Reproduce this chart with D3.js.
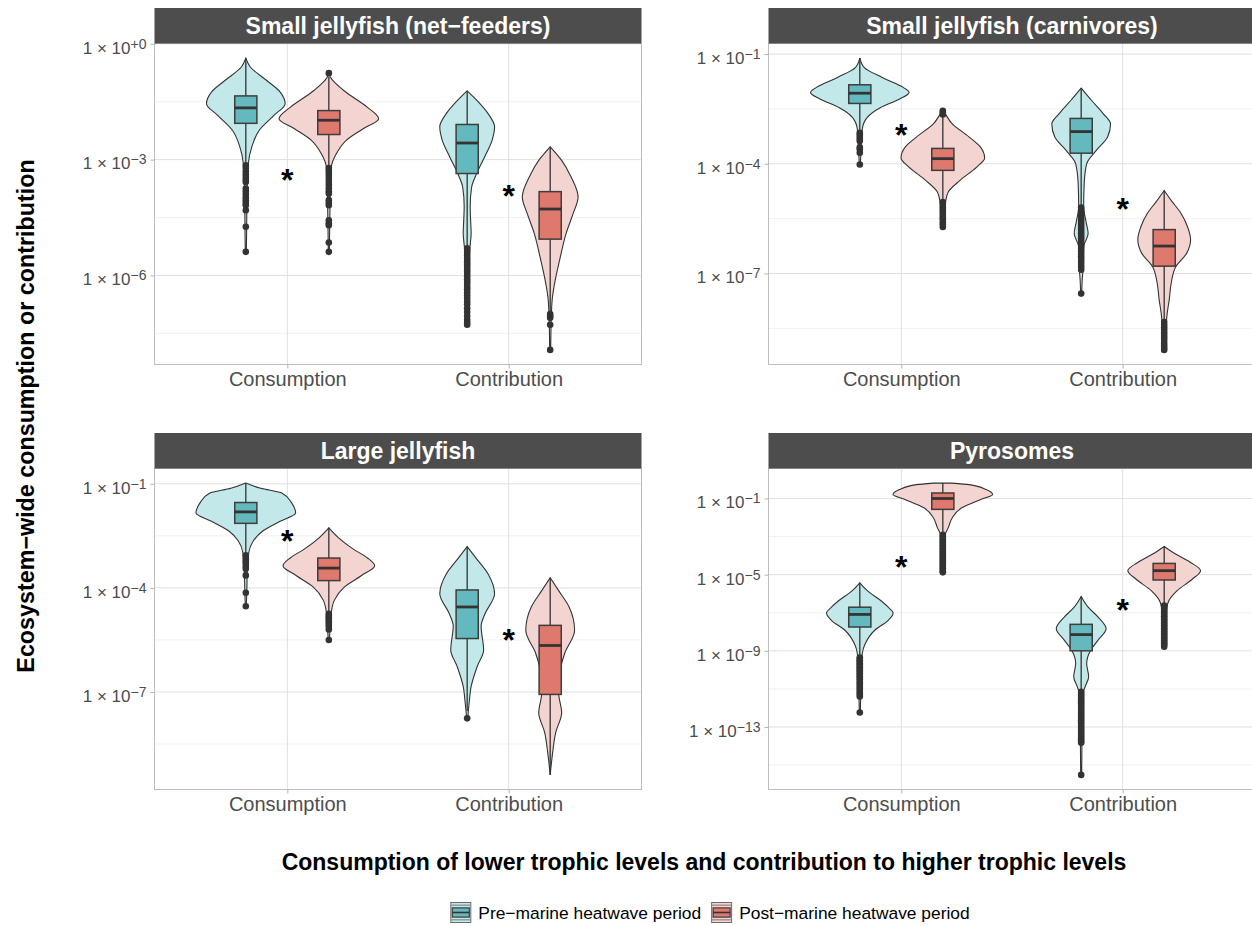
<!DOCTYPE html>
<html>
<head>
<meta charset="utf-8">
<script src="https://cdn.jsdelivr.net/npm/d3@7"></script>
<style>
  body { margin: 0; background: #fff; }
  text { font-family: "Liberation Sans", Arial, sans-serif; }
</style>
</head>
<body>
<div id="chart"></div>
<script>
// values are log10 of the quantity; order in each list:
// consumption-pre, consumption-post, contribution-pre, contribution-post
var categories = ['Consumption', 'Contribution'];
var periods = ['Pre\u2212marine heatwave period', 'Post\u2212marine heatwave period'];
var panelTitles = ['Small jellyfish (net\u2212feeders)', 'Small jellyfish (carnivores)', 'Large jellyfish', 'Pyrosomes'];

var netTicks = [0, -3, -6], netMinor = [-1.5, -4.5, -7.5];
var carnTicks = [-1, -4, -7], carnMinor = [-2.5, -5.5, -8.5];
var largeTicks = [-1, -4, -7], largeMinor = [-2.5, -5.5, -8.5];
var pyroTicks = [-1, -5, -9, -13], pyroMinor = [-3, -7, -11, -15];

// violin outlines: [log10 value, relative density]
var netShapes = [
  [[-0.37,0],[-0.6,0.09],[-0.95,0.42],[-1.25,0.69],[-1.55,0.79],[-1.85,0.57],[-2.24,0.27],[-2.67,0.12],[-3.1,0.05],[-3.6,0.03],[-4.3,0.02],[-5.0,0.015],[-5.39,0.01]],
  [[-0.76,0],[-0.86,0.03],[-1.21,0.3],[-1.64,0.77],[-1.94,1.0],[-2.2,0.69],[-2.5,0.35],[-2.85,0.15],[-3.19,0.05],[-3.8,0.03],[-4.5,0.02],[-5.39,0.01]],
  [[-1.22,0],[-1.46,0.19],[-1.81,0.42],[-2.15,0.55],[-2.5,0.5],[-2.93,0.35],[-3.36,0.19],[-3.71,0.09],[-4.22,0.06],[-4.6,0.07],[-4.91,0.08],[-5.35,0.05],[-5.78,0.04],[-6.5,0.03],[-7.28,0.01]],
  [[-2.67,0],[-3.02,0.23],[-3.45,0.42],[-3.97,0.56],[-4.4,0.46],[-4.91,0.32],[-5.6,0.19],[-6.2,0.09],[-6.63,0.04],[-7.2,0.02],[-7.93,0.01]]
];
var netBoxes = [
  [-3.1, -2.06, -1.66, -1.35, -0.37],
  [-3.19, -2.35, -1.98, -1.73, -0.86],
  [-5.26, -3.36, -2.57, -2.09, -1.22],
  [-6.94, -5.06, -4.28, -3.83, -2.67]
];
var netOutliers = [
  [-3.15,-3.22,-3.3,-3.38,-3.45,-3.52,-3.58,-3.75,-3.82,-3.9,-3.98,-4.05,-4.12,-4.18,-4.31,-4.74,-5.39],
  [-0.76,-3.22,-3.28,-3.35,-3.42,-3.5,-3.58,-3.66,-3.74,-3.82,-3.88,-4.05,-4.12,-4.18,-4.57,-4.65,-4.7,-5.15,-5.39],
  [-5.3,-5.36,-5.42,-5.48,-5.55,-5.6,-5.66,-5.72,-5.78,-5.85,-5.9,-5.96,-6.02,-6.1,-6.16,-6.22,-6.3,-6.36,-6.44,-6.52,-6.6,-6.68,-6.75,-6.85,-6.95,-7.05,-7.15,-7.22,-7.28],
  [-7.0,-7.05,-7.1,-7.28,-7.93]
];
var netStars = [-3.41, -3.81];

var carnShapes = [
  [[-1.11,0],[-1.37,0.09],[-1.64,0.45],[-1.91,0.87],[-2.05,0.99],[-2.23,0.8],[-2.46,0.42],[-2.73,0.15],[-3.05,0.05],[-3.5,0.03],[-4.02,0.01]],
  [[-2.55,0],[-2.6,0.03],[-2.91,0.19],[-3.27,0.53],[-3.55,0.76],[-3.84,0.84],[-4.09,0.68],[-4.46,0.34],[-4.77,0.11],[-5.0,0.06],[-5.4,0.03],[-5.73,0.01]],
  [[-1.93,0],[-2.27,0.21],[-2.64,0.45],[-2.91,0.59],[-3.27,0.53],[-3.64,0.3],[-4.0,0.11],[-4.55,0.06],[-5.18,0.05],[-5.6,0.1],[-5.91,0.14],[-6.27,0.05],[-6.82,0.04],[-7.2,0.02],[-7.55,0.01]],
  [[-4.73,0],[-5.0,0.14],[-5.36,0.34],[-5.73,0.47],[-6.07,0.53],[-6.45,0.45],[-6.82,0.23],[-7.27,0.14],[-7.73,0.1],[-8.09,0.06],[-8.6,0.03],[-9.09,0.01]]
];
var carnBoxes = [
  [-3.1, -2.35, -2.07, -1.84, -1.11],
  [-5.0, -4.18, -3.86, -3.58, -2.7],
  [-5.14, -3.71, -3.12, -2.76, -1.93],
  [-8.27, -6.8, -6.25, -5.8, -4.73]
];
var carnOutliers = [
  [-3.15,-3.2,-3.26,-3.32,-3.38,-3.55,-3.6,-3.7,-4.02],
  [-2.55,-2.6,-2.65,-5.05,-5.1,-5.16,-5.22,-5.28,-5.34,-5.4,-5.46,-5.52,-5.6,-5.66,-5.73],
  [-5.2,-5.27,-5.34,-5.41,-5.48,-5.55,-5.62,-5.69,-5.76,-5.83,-5.9,-5.97,-6.04,-6.11,-6.18,-6.25,-6.32,-6.39,-6.46,-6.53,-6.6,-6.67,-6.74,-6.82,-6.9,-7.55],
  [-8.33,-8.4,-8.47,-8.54,-8.61,-8.68,-8.75,-8.82,-8.9,-8.97,-9.04,-9.09]
];
var carnStars = [-3.07, -5.11];

var largeShapes = [
  [[-0.98,0],[-1.13,0.3],[-1.27,0.73],[-1.55,0.92],[-1.84,1.0],[-2.08,0.69],[-2.36,0.34],[-2.65,0.15],[-2.98,0.06],[-3.5,0.03],[-4.1,0.02],[-4.53,0.01]],
  [[-2.27,0],[-2.55,0.19],[-2.89,0.5],[-3.13,0.77],[-3.36,0.92],[-3.65,0.65],[-3.98,0.31],[-4.36,0.11],[-4.7,0.05],[-5.1,0.03],[-5.5,0.01]],
  [[-2.81,0],[-3.13,0.17],[-3.6,0.42],[-4.17,0.55],[-4.74,0.36],[-5.1,0.28],[-5.79,0.33],[-6.27,0.2],[-6.84,0.08],[-7.31,0.04],[-7.76,0.01]],
  [[-3.71,0],[-4.08,0.17],[-4.55,0.38],[-5.22,0.49],[-5.89,0.29],[-6.46,0.19],[-7.03,0.17],[-7.6,0.23],[-8.17,0.11],[-8.74,0.05],[-9.39,0]]
];
var largeBoxes = [
  [-3.03, -2.14, -1.81, -1.54, -0.98],
  [-4.7, -3.79, -3.43, -3.14, -2.27],
  [-7.55, -5.46, -4.55, -4.06, -2.81],
  [-9.39, -7.07, -5.66, -5.08, -3.71]
];
var largeOutliers = [
  [-3.06,-3.12,-3.18,-3.24,-3.3,-3.38,-3.45,-3.64,-4.14,-4.53],
  [-4.75,-4.8,-4.85,-4.9,-4.95,-5.0,-5.06,-5.12,-5.2,-5.5],
  [-7.76],
  []
];
var largeStars = [-2.51, -5.36];

var pyroShapes = [
  [[-5.43,0],[-5.84,0.15],[-6.36,0.42],[-6.71,0.57],[-7.02,0.67],[-7.4,0.57],[-7.92,0.3],[-8.62,0.11],[-9.14,0.05],[-10,0.03],[-11,0.02],[-12.24,0.01]],
  [[-0.19,0.18],[-0.27,0.53],[-0.53,0.87],[-0.79,1.0],[-1.05,0.76],[-1.49,0.38],[-2.01,0.19],[-2.53,0.11],[-2.88,0.05],[-3.5,0.03],[-4.2,0.02],[-4.88,0.01]],
  [[-6.15,0],[-6.71,0.14],[-7.23,0.34],[-7.84,0.5],[-8.44,0.34],[-8.97,0.19],[-9.66,0.11],[-10.36,0.15],[-10.88,0.08],[-11.22,0.04],[-12.5,0.02],[-14,0.015],[-15.52,0.01]],
  [[-3.52,0],[-3.92,0.23],[-4.36,0.53],[-4.79,0.73],[-5.23,0.57],[-5.84,0.26],[-6.45,0.08],[-7.2,0.03],[-8.0,0.02],[-8.79,0.01]]
];
var pyroBoxes = [
  [-9.3, -7.75, -7.09, -6.71, -5.43],
  [-2.86, -1.57, -1.0, -0.71, -0.19],
  [-11.1, -9.0, -8.15, -7.61, -6.15],
  [-6.58, -5.28, -4.79, -4.41, -3.52]
];
var pyroOutliers = [
  [-9.35,-9.42,-9.5,-9.57,-9.65,-9.72,-9.8,-9.88,-9.95,-10.03,-10.1,-10.18,-10.26,-10.34,-10.42,-10.5,-10.6,-10.7,-10.8,-10.9,-11.0,-11.1,-11.2,-11.3,-11.4,-12.24],
  [-2.9,-2.98,-3.06,-3.14,-3.22,-3.3,-3.38,-3.46,-3.54,-3.62,-3.7,-3.78,-3.86,-3.94,-4.02,-4.1,-4.18,-4.26,-4.34,-4.42,-4.5,-4.58,-4.66,-4.74,-4.82,-4.88],
  [-11.15,-11.25,-11.35,-11.45,-11.55,-11.65,-11.75,-11.85,-11.95,-12.05,-12.15,-12.25,-12.35,-12.45,-12.55,-12.65,-12.75,-12.85,-12.95,-13.05,-13.15,-13.25,-13.35,-13.45,-13.55,-13.65,-13.75,-13.83,-15.52],
  [-6.62,-6.7,-6.78,-6.86,-6.94,-7.02,-7.1,-7.18,-7.26,-7.34,-7.42,-7.5,-7.58,-7.66,-7.74,-7.82,-7.9,-7.98,-8.06,-8.14,-8.22,-8.3,-8.38,-8.46,-8.54,-8.62,-8.7,-8.79]
];
var pyroStars = [-4.36, -6.58];

var violinFill = ['#c2e8e9', '#f3d4d0'];
var boxFill = ['#64b9bf', '#df796e'];
var dark = '#333333';

var panels = [
  { title: panelTitles[0], ticks: netTicks, minor: netMinor, shapes: netShapes, boxes: netBoxes, outliers: netOutliers, stars: netStars, left: 154.5, top: 8 },
  { title: panelTitles[1], ticks: carnTicks, minor: carnMinor, shapes: carnShapes, boxes: carnBoxes, outliers: carnOutliers, stars: carnStars, left: 768.5, top: 8 },
  { title: panelTitles[2], ticks: largeTicks, minor: largeMinor, shapes: largeShapes, boxes: largeBoxes, outliers: largeOutliers, stars: largeStars, left: 154.5, top: 433 },
  { title: panelTitles[3], ticks: pyroTicks, minor: pyroMinor, shapes: pyroShapes, boxes: pyroBoxes, outliers: pyroOutliers, stars: pyroStars, left: 768.5, top: 433 }
];

var width = 1252, height = 926;
var panelW = 487, panelH = 321, stripH = 35.5;

var svg = d3.select('#chart').append('svg')
  .attr('width', width)
  .attr('height', height);

function expLabel(v) {
  if (v === 0) return '+0';
  return (v < 0 ? '\u2212' : '+') + Math.abs(v);
}

function drawPanel(p) {
  var g = svg.append('g').attr('transform', 'translate(' + p.left + ',' + p.top + ')');
  var plot = g.append('g').attr('transform', 'translate(0,' + stripH + ')');

  var vals = [];
  p.shapes.forEach(function(s) { s.forEach(function(d) { vals.push(d[0]); }); });
  p.outliers.forEach(function(o) { vals = vals.concat(o); });
  var lo = d3.min(vals), hi = d3.max(vals), pad = (hi - lo) * 0.05;

  var y = d3.scaleLinear().domain([lo - pad, hi + pad]).range([panelH, 0]);
  var x = d3.scalePoint().domain(categories).range([0, panelW]).padding(0.6);
  var step = x.step();
  var dens = d3.scaleLinear().domain([0, 1]).range([0, 0.225 * step]);

  // grid
  plot.selectAll('line.minor')
    .data(p.minor.filter(function(v) { return v > lo - pad && v < hi + pad; }))
    .enter().append('line')
    .attr('x1', 0).attr('x2', panelW)
    .attr('y1', function(d) { return y(d); }).attr('y2', function(d) { return y(d); })
    .attr('stroke', '#ededed').attr('stroke-width', 0.8);
  plot.selectAll('line.major')
    .data(p.ticks)
    .enter().append('line')
    .attr('x1', 0).attr('x2', panelW)
    .attr('y1', function(d) { return y(d); }).attr('y2', function(d) { return y(d); })
    .attr('stroke', '#e0e0e0').attr('stroke-width', 1);
  plot.selectAll('line.xgrid')
    .data(categories)
    .enter().append('line')
    .attr('x1', function(d) { return x(d); }).attr('x2', function(d) { return x(d); })
    .attr('y1', 0).attr('y2', panelH)
    .attr('stroke', '#e0e0e0').attr('stroke-width', 1);

  var groups = [];
  categories.forEach(function(c, ci) {
    [0, 1].forEach(function(pi) {
      var k = ci * 2 + pi;
      groups.push({
        cx: x(c) + (pi === 0 ? -1 : 1) * 0.1875 * step,
        period: pi,
        shape: p.shapes[k],
        box: p.boxes[k],
        outliers: p.outliers[k]
      });
    });
  });

  // violins
  groups.forEach(function(gr) {
    var area = d3.area()
      .y(function(d) { return y(d[0]); })
      .x0(function(d) { return gr.cx - dens(d[1]); })
      .x1(function(d) { return gr.cx + dens(d[1]); })
      .curve(d3.curveMonotoneY);
    plot.append('path')
      .attr('d', area(gr.shape))
      .attr('fill', violinFill[gr.period])
      .attr('stroke', dark)
      .attr('stroke-width', 1.1);
  });

  // boxplots
  var bw = 0.05 * step;
  groups.forEach(function(gr) {
    var b = gr.box;
    var bg = plot.append('g');
    bg.append('line')
      .attr('x1', gr.cx).attr('x2', gr.cx)
      .attr('y1', y(b[4])).attr('y2', y(b[3]))
      .attr('stroke', dark).attr('stroke-width', 1.3);
    bg.append('line')
      .attr('x1', gr.cx).attr('x2', gr.cx)
      .attr('y1', y(b[1])).attr('y2', y(b[0]))
      .attr('stroke', dark).attr('stroke-width', 1.3);
    bg.append('rect')
      .attr('x', gr.cx - bw).attr('width', 2 * bw)
      .attr('y', y(b[3])).attr('height', y(b[1]) - y(b[3]))
      .attr('fill', boxFill[gr.period])
      .attr('stroke', '#3d3d3d').attr('stroke-width', 1.5);
    bg.append('line')
      .attr('x1', gr.cx - bw).attr('x2', gr.cx + bw)
      .attr('y1', y(b[2])).attr('y2', y(b[2]))
      .attr('stroke', dark).attr('stroke-width', 2.8);
    bg.selectAll('circle')
      .data(gr.outliers)
      .enter().append('circle')
      .attr('cx', gr.cx)
      .attr('cy', function(d) { return y(d); })
      .attr('r', 3.3)
      .attr('fill', dark);
  });

  // significance stars
  plot.selectAll('text.star')
    .data(p.stars)
    .enter().append('text')
    .attr('x', function(d, i) { return x(categories[i]); })
    .attr('y', function(d) { return y(d) + 16; })
    .attr('text-anchor', 'middle')
    .attr('font-size', '32px')
    .attr('font-weight', 'bold')
    .attr('fill', '#000')
    .text('*');

  // border
  plot.append('rect')
    .attr('x', 0).attr('y', 0)
    .attr('width', panelW).attr('height', panelH)
    .attr('fill', 'none')
    .attr('stroke', '#bdbdbd').attr('stroke-width', 1);

  // strip
  g.append('rect')
    .attr('x', 0).attr('y', 0)
    .attr('width', panelW).attr('height', stripH)
    .attr('fill', '#4d4d4d');
  g.append('text')
    .attr('x', panelW / 2).attr('y', stripH / 2 + 8)
    .attr('text-anchor', 'middle')
    .attr('fill', '#fff')
    .attr('font-size', '23px')
    .attr('font-weight', 'bold')
    .text(p.title);

  // axes
  var yAxis = d3.axisLeft(y).tickValues(p.ticks).tickSizeInner(4).tickSizeOuter(0).tickPadding(4);
  var ya = plot.append('g').call(yAxis);
  ya.select('.domain').remove();
  ya.selectAll('.tick line').attr('stroke', '#b3b3b3');
  ya.selectAll('.tick text')
    .attr('fill', '#4d4d4d')
    .attr('font-size', '17px')
    .attr('font-family', '"Liberation Sans", Arial, sans-serif')
    .attr('dy', '0.55em')
    .each(function(d) {
      var t = d3.select(this);
      t.text(null);
      t.append('tspan').text('1 \u00d7 10');
      t.append('tspan').attr('dy', '-5').attr('font-size', '14px').text(expLabel(d));
    });

  var xAxis = d3.axisBottom(x).tickSizeInner(4).tickSizeOuter(0).tickPadding(3);
  var xa = plot.append('g').attr('transform', 'translate(0,' + panelH + ')').call(xAxis);
  xa.select('.domain').remove();
  xa.selectAll('.tick line').attr('stroke', '#b3b3b3');
  xa.selectAll('.tick text')
    .attr('fill', '#4d4d4d')
    .attr('font-size', '20px')
    .attr('font-family', '"Liberation Sans", Arial, sans-serif');
}

panels.forEach(drawPanel);

// axis titles
svg.append('text')
  .attr('transform', 'translate(34,416) rotate(-90)')
  .attr('text-anchor', 'middle')
  .attr('font-size', '23.3px')
  .attr('font-weight', 'bold')
  .text('Ecosystem\u2212wide consumption or contribution');

svg.append('text')
  .attr('x', 704).attr('y', 870)
  .attr('text-anchor', 'middle')
  .attr('font-size', '23px')
  .attr('font-weight', 'bold')
  .text('Consumption of lower trophic levels and contribution to higher trophic levels');

// legend
var legend = svg.append('g');
var keySize = 21, cursor = 0;
periods.forEach(function(name, i) {
  var kg = legend.append('g').attr('transform', 'translate(' + cursor + ',0)');
  kg.append('rect')
    .attr('x', 0.5).attr('y', 0.5).attr('width', keySize - 1).attr('height', keySize - 1)
    .attr('fill', violinFill[i]).attr('stroke', '#6b6b6b').attr('stroke-width', 1);
  kg.append('line')
    .attr('x1', 1).attr('x2', keySize - 1)
    .attr('y1', keySize * 0.15).attr('y2', keySize * 0.15)
    .attr('stroke', '#7a7a7a').attr('stroke-width', 1);
  kg.append('line')
    .attr('x1', 1).attr('x2', keySize - 1)
    .attr('y1', keySize * 0.85).attr('y2', keySize * 0.85)
    .attr('stroke', '#7a7a7a').attr('stroke-width', 1);
  kg.append('rect')
    .attr('x', 2).attr('y', keySize * 0.28).attr('width', keySize - 4).attr('height', keySize * 0.44)
    .attr('fill', boxFill[i]).attr('stroke', '#3d3d3d').attr('stroke-width', 1.2);
  kg.append('line')
    .attr('x1', 2).attr('x2', keySize - 2)
    .attr('y1', keySize / 2).attr('y2', keySize / 2)
    .attr('stroke', dark).attr('stroke-width', 1.6);
  var t = kg.append('text')
    .attr('x', keySize + 7).attr('y', keySize / 2 + 6)
    .attr('font-size', '17.4px')
    .attr('fill', '#000')
    .text(name);
  cursor += keySize + 7 + t.node().getComputedTextLength() + 10;
});
var legendW = cursor - 10;
legend.attr('transform', 'translate(' + (710 - legendW / 2) + ',902)');
</script>
</body>
</html>
